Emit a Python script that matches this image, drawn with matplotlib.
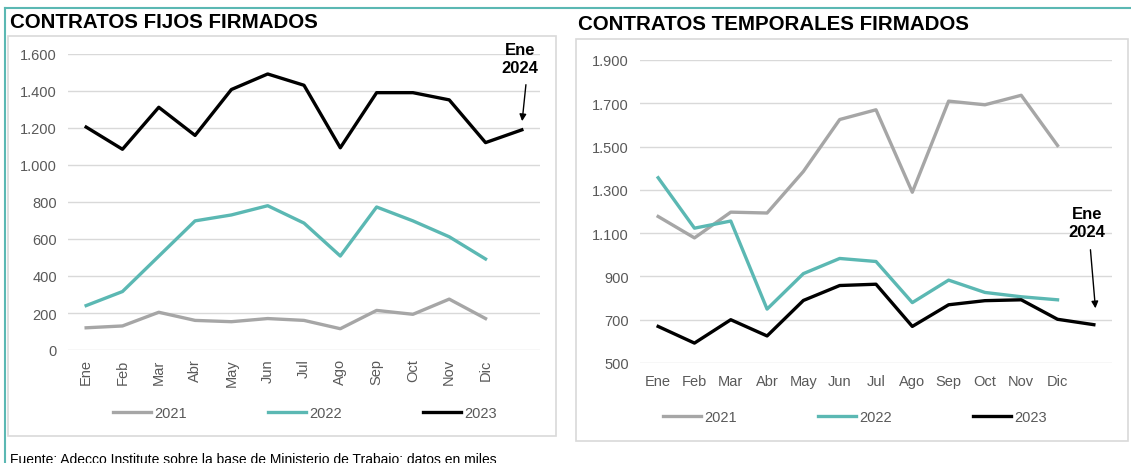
import matplotlib
matplotlib.use("Agg")
import matplotlib.pyplot as plt
from matplotlib.patches import Rectangle
from matplotlib.lines import Line2D

plt.rcParams['font.family'] = ['Liberation Sans', 'DejaVu Sans']

# data (miles de contratos)
months = ['Ene', 'Feb', 'Mar', 'Abr', 'May', 'Jun', 'Jul', 'Ago', 'Sep', 'Oct', 'Nov', 'Dic']
years = ['2021', '2022', '2023']

fijos_2021 = [120, 130, 204, 160, 153, 170, 160, 115, 214, 193, 275, 170]
fijos_2022 = [240, 316, 507, 698, 730, 780, 686, 508, 773, 698, 612, 492]
fijos_2023 = [1205, 1085, 1312, 1160, 1408, 1492, 1431, 1093, 1391, 1391, 1352, 1121, 1190]

temp_2021 = [1177, 1078, 1197, 1193, 1385, 1625, 1670, 1289, 1710, 1693, 1737, 1505]
temp_2022 = [1356, 1123, 1156, 749, 913, 983, 969, 779, 883, 826, 806, 792]
temp_2023 = [669, 592, 700, 625, 789, 858, 864, 669, 769, 788, 792, 702, 677]

W, H = 1131, 464
GRAY = '#A6A6A6'
TEAL = '#5BB8B3'
TXT = '#595959'
GRID = '#D9D9D9'

fig = plt.figure(figsize=(W / 100, H / 100), dpi=100)


def box(x0, y0, x1, y1):
    # pixel box (top-left origin) -> figure fraction rect
    return [x0 / W, 1 - y1 / H, (x1 - x0) / W, (y1 - y0) / H]


# outer teal border and light grey chart frames
fig.add_artist(Line2D([5 / W, 1], [1 - 9 / H, 1 - 9 / H], color=TEAL, lw=1.5))
fig.add_artist(Line2D([5 / W, 5 / W], [0, 1 - 9 / H], color=TEAL, lw=1.5))
for fr in [(8, 37, 556, 437), (576, 40, 1128, 442)]:
    r = box(*fr)
    fig.add_artist(Rectangle((r[0], r[1]), r[2], r[3], transform=fig.transFigure,
                             fill=False, ec=GRID, lw=1.2))

fig.text(10 / W, 1 - 23 / H, 'CONTRATOS FIJOS FIRMADOS', fontsize=14.8,
         fontweight='bold', va='center', ha='left')
fig.text(578 / W, 1 - 24 / H, 'CONTRATOS TEMPORALES FIRMADOS', fontsize=14.8,
         fontweight='bold', va='center', ha='left')
fig.text(10 / W, 1 - 460 / H,
         'Fuente: Adecco Institute sobre la base de Ministerio de Trabajo; datos en miles',
         fontsize=10, va='center', ha='left')


def style(ax, ylim, step, fmt_rot):
    ax.set_xlim(-0.5, 12.5)
    ax.set_ylim(*ylim)
    ax.set_yticks(range(ylim[0], ylim[1] + 1, step))
    ax.set_yticklabels([f'{v:,}'.replace(',', '.') for v in range(ylim[0], ylim[1] + 1, step)])
    ax.set_xticks(range(12))
    ax.set_xticklabels(months, rotation=fmt_rot)
    for s in ax.spines.values():
        s.set_visible(False)
    ax.grid(axis='y', color=GRID, lw=1)
    ax.set_axisbelow(True)
    ax.tick_params(length=0, labelsize=10.5, colors=TXT, pad=8)
    ax.patch.set_alpha(0)


# left: fijos
ax1 = fig.add_axes(box(68, 55, 540, 351))
ax1.plot(range(12), fijos_2021, color=GRAY, lw=2.4, label=years[0])
ax1.plot(range(12), fijos_2022, color=TEAL, lw=2.4, label=years[1])
ax1.plot(range(13), fijos_2023, color='black', lw=2.4, label=years[2])
style(ax1, (0, 1600), 200, 90)
ax1.tick_params(axis='x', pad=6)
ax1.annotate('', xy=(12, fijos_2023[12] + 32), xytext=(12.12, 1449),
             arrowprops=dict(arrowstyle='-|>', color='black', lw=1, mutation_scale=10),
             annotation_clip=False)
ax1.text(11.95, 1578, 'Ene\n2024', fontsize=12, fontweight='bold', ha='center',
         va='center', linespacing=1.25)
ax1.legend(loc='center', bbox_to_anchor=(305 / W, 1 - 414 / H), bbox_transform=fig.transFigure,
           ncol=3, frameon=False, fontsize=10.5, handlelength=2.6, columnspacing=5.6,
           handletextpad=0.2, labelcolor=TXT)

# right: temporales
ax2 = fig.add_axes(box(640, 61, 1112, 364))
ax2.plot(range(12), temp_2021, color=GRAY, lw=2.4, label=years[0])
ax2.plot(range(12), temp_2022, color=TEAL, lw=2.4, label=years[1])
ax2.plot(range(13), temp_2023, color='black', lw=2.4, label=years[2])
style(ax2, (500, 1900), 200, 0)
ax2.annotate('', xy=(12.05, temp_2023[12] + 63), xytext=(11.9, 1036),
             arrowprops=dict(arrowstyle='-|>', color='black', lw=1, mutation_scale=10),
             annotation_clip=False)
ax2.text(11.82, 1147, 'Ene\n2024', fontsize=12, fontweight='bold', ha='center',
         va='center', linespacing=1.25)
ax2.legend(loc='center', bbox_to_anchor=(855 / W, 1 - 418 / H), bbox_transform=fig.transFigure,
           ncol=3, frameon=False, fontsize=10.5, handlelength=2.6, columnspacing=5.6,
           handletextpad=0.2, labelcolor=TXT)

fig.savefig('out.png', dpi=100)
